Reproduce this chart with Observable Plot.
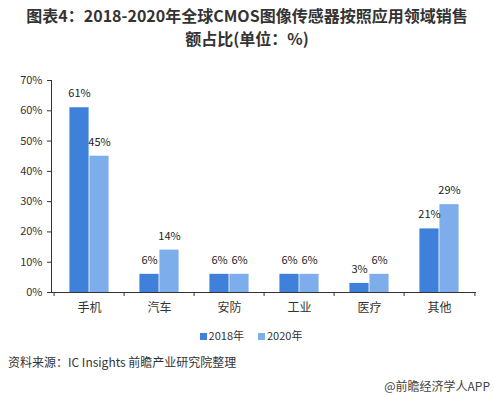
<!DOCTYPE html>
<html><head><meta charset="utf-8">
<script src="https://cdn.jsdelivr.net/npm/d3@7"></script>
<script src="https://cdn.jsdelivr.net/npm/@observablehq/plot@0.6"></script>
<style>
body{margin:0;background:#fff;font-family:"Noto Sans CJK SC","Noto Sans",sans-serif;color:#333;}
#wrap{width:494px;height:397px;position:relative;overflow:hidden;}
#title{height:50px;padding-top:4px;box-sizing:border-box;text-align:center;font-weight:bold;font-size:16px;line-height:23px;color:#333;white-space:nowrap;}
#legend{height:30px;display:flex;justify-content:center;align-items:center;gap:14px;font-size:11px;color:#333;padding-left:8px;}
#legend span.sw{display:inline-block;width:7px;height:7px;margin-right:2px;}
#source{position:absolute;left:8px;top:353px;font-size:12px;color:#333;}
#wm{position:absolute;right:4px;top:377px;font-size:12px;color:#444;}
</style></head>
<body><div id="wrap">
<div id="title">图表4：2018-2020年全球CMOS图像传感器按照应用领域销售<br>额占比(单位：%)</div>
<div id="chart"></div>
<div id="legend"></div>
<div id="source">资料来源：IC Insights 前瞻产业研究院整理</div>
<div id="wm">@前瞻经济学人APP</div>
</div>
<script>
const categories = ["手机","汽车","安防","工业","医疗","其他"];
const series = ["2018年","2020年"];
const values2018 = [61, 6, 6, 6, 3, 21];
const values2020 = [45, 14, 6, 6, 6, 29];
const yTicks = [0,10,20,30,40,50,60,70];
const colors = ["#3F80DA","#7DADEA"];

const rows = categories.map((c,i)=>({cat:c, v2018:values2018[i], v2020:values2020[i]}));
const W = 494, mL = 51, mR = 18;
const half = (W - mL - mR) / categories.length / 2;

const plot = Plot.plot({
  width: W, height: 270,
  marginLeft: mL, marginRight: mR, marginTop: 30, marginBottom: 28,
  style: {fontFamily: "'Noto Sans CJK SC','Noto Sans',sans-serif", color: "#333", background: "#fff"},
  x: {domain: categories, paddingInner: 0, paddingOuter: 0, label: null},
  y: {domain: [0, 70], label: null},
  marks: [
    Plot.barY(rows, {x: "cat", y: "v2018", fill: colors[0], insetLeft: half - 20, insetRight: half}),
    Plot.barY(rows, {x: "cat", y: "v2020", fill: colors[1], insetLeft: half, insetRight: half - 20}),
    Plot.text(rows, {x: "cat", y: "v2018", text: d => d.v2018 + "%", dx: -10, dy: -14, fontSize: 11, fill: "#222"}),
    Plot.text(rows, {x: "cat", y: "v2020", text: d => d.v2020 + "%", dx: 10, dy: -14, fontSize: 11, fill: "#222"}),
    Plot.axisY({ticks: yTicks, tickFormat: d => d + "%", tickSize: 4, tickPadding: 5, fontSize: 11, label: null}),
    Plot.axisX({tickSize: 0, tickPadding: 11, fontSize: 12, label: null}),
    Plot.axisX({tickSize: 4, tickFormat: () => "", dx: -half, label: null}),
    Plot.axisX({ticks: [categories[categories.length-1]], tickSize: 4, tickFormat: () => "", dx: half, label: null}),
    Plot.frame({anchor: "left", stroke: "#333"}),
    Plot.ruleY([0], {stroke: "#333"})
  ]
});
document.getElementById("chart").appendChild(plot);

const lg = document.getElementById("legend");
series.forEach((s,i)=>{
  const d = document.createElement("div");
  d.innerHTML = `<span class="sw" style="background:${colors[i]}"></span>${s}`;
  lg.appendChild(d);
});
</script>
</body></html>
